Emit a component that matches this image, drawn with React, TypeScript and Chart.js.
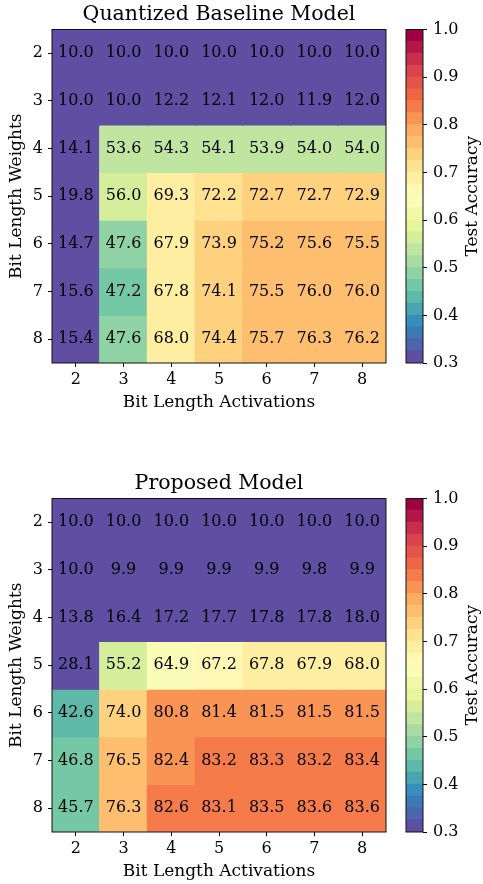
import React, { useEffect, useRef } from "react";
import { Chart, registerables } from "chart.js";

Chart.register(...registerables);

// ---------------- data ----------------
const activationBits = ["2", "3", "4", "5", "6", "7", "8"];
const weightBits = [2, 3, 4, 5, 6, 7, 8];

// rows = weight bits 2..8, columns = activation bits 2..8 (test accuracy, %)
const baselineAcc = [
  [10.0, 10.0, 10.0, 10.0, 10.0, 10.0, 10.0],
  [10.0, 10.0, 12.2, 12.1, 12.0, 11.9, 12.0],
  [14.1, 53.6, 54.3, 54.1, 53.9, 54.0, 54.0],
  [19.8, 56.0, 69.3, 72.2, 72.7, 72.7, 72.9],
  [14.7, 47.6, 67.9, 73.9, 75.2, 75.6, 75.5],
  [15.6, 47.2, 67.8, 74.1, 75.5, 76.0, 76.0],
  [15.4, 47.6, 68.0, 74.4, 75.7, 76.3, 76.2],
];

const proposedAcc = [
  [10.0, 10.0, 10.0, 10.0, 10.0, 10.0, 10.0],
  [10.0, 9.9, 9.9, 9.9, 9.9, 9.8, 9.9],
  [13.8, 16.4, 17.2, 17.7, 17.8, 17.8, 18.0],
  [28.1, 55.2, 64.9, 67.2, 67.8, 67.9, 68.0],
  [42.6, 74.0, 80.8, 81.4, 81.5, 81.5, 81.5],
  [46.8, 76.5, 82.4, 83.2, 83.3, 83.2, 83.4],
  [45.7, 76.3, 82.6, 83.1, 83.5, 83.6, 83.6],
];

const colorbarTicks = [0.3, 0.4, 0.5, 0.6, 0.7, 0.8, 0.9, 1.0];
const V_MIN = 0.3;
const V_MAX = 1.0;
const N_LEVELS = 28;

// ---------------- colour map (Spectral_r, discrete) ----------------
const SPECTRAL = [
  "#9e0142", "#d53e4f", "#f46d43", "#fdae61", "#fee08b", "#ffffbf",
  "#e6f598", "#abdda4", "#66c2a5", "#3288bd", "#5e4fa2",
];
function hexToRgb(h: string) {
  return [parseInt(h.slice(1, 3), 16), parseInt(h.slice(3, 5), 16), parseInt(h.slice(5, 7), 16)];
}
function spectralR(t: number) {
  const s = 1 - t;
  const pos = s * (SPECTRAL.length - 1);
  const i = Math.min(SPECTRAL.length - 2, Math.floor(pos));
  const f = pos - i;
  const a = hexToRgb(SPECTRAL[i]);
  const b = hexToRgb(SPECTRAL[i + 1]);
  const c = a.map((v, k) => Math.round(v + (b[k] - v) * f));
  return `rgb(${c[0]},${c[1]},${c[2]})`;
}
function levelColor(idx: number) {
  return spectralR(idx / (N_LEVELS - 1));
}
function colorFor(accPercent: number) {
  const x = (accPercent / 100 - V_MIN) / (V_MAX - V_MIN);
  let idx = Math.floor(x * N_LEVELS + 1e-9);
  if (idx < 0) idx = 0;
  if (idx > N_LEVELS - 1) idx = N_LEVELS - 1;
  return levelColor(idx);
}

const FONT = "'DejaVu Serif', serif";
const BLACK = "#000";
const TICK_SIZE = 16;
const LABEL_SIZE = 17;
const TITLE_SIZE = 20.5;
const CELL_SIZE = 16;

// ---------------- plugins ----------------
const framePlugin = {
  id: "frame",
  afterDraw(chart: any) {
    const { ctx, chartArea } = chart;
    ctx.save();
    ctx.strokeStyle = "#111";
    ctx.lineWidth = 1;
    ctx.strokeRect(chartArea.left, chartArea.top, chartArea.right - chartArea.left, chartArea.bottom - chartArea.top);
    ctx.restore();
  },
};

const cellTextPlugin = {
  id: "cellText",
  afterDatasetsDraw(chart: any) {
    const ctx = chart.ctx;
    ctx.save();
    ctx.font = `${CELL_SIZE}px ${FONT}`;
    ctx.fillStyle = BLACK;
    ctx.textAlign = "center";
    ctx.textBaseline = "middle";
    chart.data.datasets.forEach((ds: any, di: number) => {
      const meta = chart.getDatasetMeta(di);
      meta.data.forEach((el: any, i: number) => {
        const p = el.getProps(["x", "y", "base"], true);
        ctx.fillText(ds.cellValues[i].toFixed(1), p.x, (p.y + p.base) / 2);
      });
    });
    ctx.restore();
  },
};

const cbLabelPlugin = {
  id: "cbLabel",
  afterDraw(chart: any) {
    const { ctx, chartArea } = chart;
    ctx.save();
    ctx.font = `${LABEL_SIZE}px ${FONT}`;
    ctx.fillStyle = BLACK;
    ctx.textAlign = "center";
    ctx.textBaseline = "middle";
    ctx.translate(chart.width - 10, (chartArea.top + chartArea.bottom) / 2);
    ctx.rotate(-Math.PI / 2);
    ctx.fillText("Test Accuracy", 0, 0);
    ctx.restore();
  },
};

const tickGrid = {
  display: true,
  drawOnChartArea: false,
  drawTicks: true,
  tickLength: 4,
  color: BLACK,
  lineWidth: 1,
  offset: false,
};

// ---------------- components ----------------
function Heatmap({ title, values, top }: { title: string; values: number[][]; top: number }) {
  const ref = useRef<HTMLCanvasElement>(null);
  useEffect(() => {
    const datasets = weightBits.map((w, r) => ({
      label: String(w),
      data: activationBits.map(() => [w - 0.5, w + 0.5]),
      backgroundColor: values[r].map(colorFor),
      cellValues: values[r],
      grouped: false,
      barPercentage: 1,
      categoryPercentage: 1,
      borderWidth: 0,
      inflateAmount: 0.6,
    }));
    const chart = new Chart(ref.current as HTMLCanvasElement, {
      type: "bar",
      data: { labels: activationBits, datasets: datasets as any },
      options: {
        animation: false,
        responsive: false,
        maintainAspectRatio: false,
        layout: { padding: { left: 0, right: 9, top: 0, bottom: 0 } },
        plugins: {
          legend: { display: false },
          tooltip: { enabled: false },
          title: {
            display: true,
            fullSize: false,
            text: title,
            color: BLACK,
            font: { family: FONT, size: TITLE_SIZE, weight: "normal" },
            padding: { top: 2, bottom: 2.9 },
          },
        },
        scales: {
          x: {
            type: "category",
            offset: true,
            grid: tickGrid as any,
            border: { display: false },
            ticks: { color: BLACK, font: { family: FONT, size: TICK_SIZE }, padding: 3, maxRotation: 0 },
            title: {
              display: true,
              text: "Bit Length Activations",
              color: BLACK,
              font: { family: FONT, size: LABEL_SIZE },
              padding: { top: 0, bottom: 7 },
            },
            afterFit: (s: any) => {
              s.height = 57;
            },
          },
          y: {
            type: "linear",
            reverse: true,
            min: 1.5,
            max: 8.5,
            afterBuildTicks: (s: any) => {
              s.ticks = weightBits.map((v) => ({ value: v }));
            },
            grid: tickGrid as any,
            border: { display: false },
            ticks: { color: BLACK, font: { family: FONT, size: TICK_SIZE }, padding: 5, callback: (v: any) => String(v) },
            title: {
              display: true,
              text: "Bit Length Weights",
              color: BLACK,
              font: { family: FONT, size: LABEL_SIZE },
              padding: { top: 6, bottom: 0 },
            },
            afterFit: (s: any) => {
              s.width = 52;
            },
          },
        },
      } as any,
      plugins: [cellTextPlugin, framePlugin],
    });
    return () => chart.destroy();
  }, [title, values]);
  return (
    <canvas
      ref={ref}
      width={395}
      height={420}
      style={{ position: "absolute", left: 0, top, width: 395, height: 420 }}
    />
  );
}

function Colorbar({ top }: { top: number }) {
  const ref = useRef<HTMLCanvasElement>(null);
  useEffect(() => {
    const step = (V_MAX - V_MIN) / N_LEVELS;
    const datasets = Array.from({ length: N_LEVELS }, (_, i) => ({
      label: "level" + i,
      data: [[V_MIN + i * step, V_MIN + (i + 1) * step]],
      backgroundColor: levelColor(i),
      grouped: false,
      barPercentage: 1,
      categoryPercentage: 1,
      borderWidth: 0,
      inflateAmount: 0.6,
    }));
    const chart = new Chart(ref.current as HTMLCanvasElement, {
      type: "bar",
      data: { labels: [""], datasets: datasets as any },
      options: {
        animation: false,
        responsive: false,
        maintainAspectRatio: false,
        layout: { padding: { left: 21, right: 0, top: 29.5, bottom: 57 } },
        plugins: { legend: { display: false }, tooltip: { enabled: false } },
        scales: {
          x: { type: "category", display: false, offset: true },
          y: {
            type: "linear",
            position: "right",
            min: V_MIN,
            max: V_MAX,
            afterBuildTicks: (s: any) => {
              s.ticks = colorbarTicks.map((v) => ({ value: v }));
            },
            grid: tickGrid as any,
            border: { display: false },
            ticks: {
              color: BLACK,
              font: { family: FONT, size: TICK_SIZE },
              padding: 6,
              callback: (v: any) => Number(v).toFixed(1),
            },
            afterFit: (s: any) => {
              s.width = 60;
            },
          },
        },
      } as any,
      plugins: [framePlugin, cbLabelPlugin],
    });
    return () => chart.destroy();
  }, []);
  return (
    <canvas
      ref={ref}
      width={98}
      height={420}
      style={{ position: "absolute", left: 385, top, width: 98, height: 420 }}
    />
  );
}

export default function App() {
  return (
    <div style={{ position: "absolute", left: 0, top: 0, width: 483, height: 884, background: "#fff" }}>
      <Heatmap title="Quantized Baseline Model" values={baselineAcc} top={0} />
      <Colorbar top={0} />
      <Heatmap title="Proposed Model" values={proposedAcc} top={469} />
      <Colorbar top={469} />
    </div>
  );
}
